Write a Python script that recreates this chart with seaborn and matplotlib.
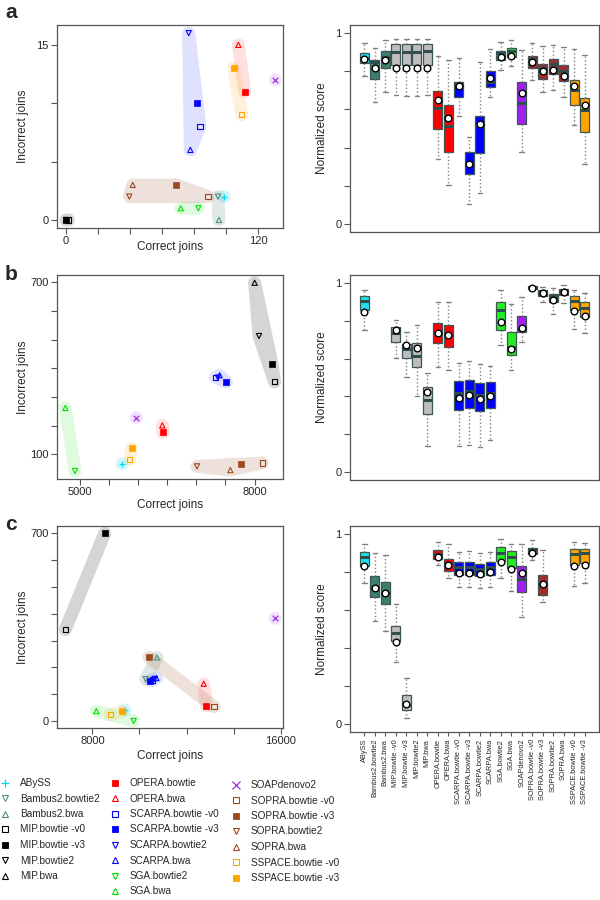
import numpy as np
import pandas as pd
import matplotlib
matplotlib.use("Agg")
import matplotlib.pyplot as plt
from matplotlib.lines import Line2D
import seaborn as sns

nan = np.nan

# ---------------- data ----------------
methods = ["ABySS", "Bambus2.bowtie2", "Bambus2.bwa", "MIP.bowtie -v0", "MIP.bowtie -v3",
           "MIP.bowtie2", "MIP.bwa", "OPERA.bowtie", "OPERA.bwa", "SCARPA.bowtie -v0",
           "SCARPA.bowtie -v3", "SCARPA.bowtie2", "SCARPA.bwa", "SGA.bowtie2", "SGA.bwa",
           "SOAPdenovo2", "SOPRA.bowtie -v0", "SOPRA.bowtie -v3", "SOPRA.bowtie2", "SOPRA.bwa",
           "SSPACE.bowtie -v0", "SSPACE.bowtie -v3"]
assemblers = ["ABySS", "Bambus2", "MIP", "OPERA", "SCARPA", "SGA", "SOAPdenovo2", "SOPRA", "SSPACE"]

# scatter panels: correct / incorrect joins
a_correct = [99, 95, 95.6, 1.5, 0, 0, 0, 111.7, 107.7, 83.7, 81.7, 76.7, 77.7, 82.7, 71.7,
             130.8, 88.7, 68.7, 39.6, 41.7, 109.8, 104.8]
a_incorrect = [2, 2, 0, 0, 0, 0, 0, 11, 15, 8, 10, 16, 6, 1, 1, 12, 2, 3, 2, 3, 9, 13]

b_correct = [5726, nan, nan, 8343, 8297, 8074, 8000, 6429, 6417, 7331, 7514, 7371, 7400,
             4920, 4754, 5971, 8131, 7771, 7011, 7583, 5857, 5891]
b_incorrect = [67, nan, nan, 353, 416, 513, 699, 177, 201, 369, 353, 368, 376, 42, 262, 228,
               70, 66, 58, 45, 81, 122]

c_correct = [9388, 10266, 10748, 6853, 8524, nan, nan, 12844, 12731, 10550, 10465, 10650,
             10720, 9756, 8170, 15762, 13170, 10408, nan, nan, 8765, 9246]
c_incorrect = [42, 156, 237, 341, 700, nan, nan, 57, 139, 153, 151, 157, 160, 0, 37, 383,
               53, 238, nan, nan, 24, 36]

# box panels: whisker low, q1, median, q3, whisker high, mean
a_lo = [0.775, 0.639, 0.693, 0.677, 0.672, 0.672, 0.675, 0.342, 0.205, 0.565, 0.102, 0.161, 0.663, 0.810, 0.826, 0.375, 0.754, 0.693, 0.700, 0.668, 0.518, 0.316]
a_q1 = [0.842, 0.758, 0.816, 0.832, 0.832, 0.832, 0.832, 0.498, 0.374, 0.663, 0.260, 0.372, 0.716, 0.858, 0.877, 0.525, 0.816, 0.758, 0.789, 0.749, 0.621, 0.479]
a_med = [0.870, 0.850, 0.877, 0.902, 0.902, 0.902, 0.905, 0.609, 0.511, 0.740, 0.321, 0.520, 0.746, 0.895, 0.909, 0.635, 0.863, 0.820, 0.837, 0.800, 0.702, 0.596]
a_q3 = [0.895, 0.860, 0.909, 0.942, 0.942, 0.942, 0.942, 0.698, 0.621, 0.747, 0.374, 0.565, 0.802, 0.909, 0.923, 0.742, 0.881, 0.837, 0.863, 0.832, 0.754, 0.658]
a_hi = [0.951, 0.925, 0.963, 0.970, 0.970, 0.970, 0.972, 0.882, 0.858, 0.872, 0.454, 0.849, 0.916, 0.956, 0.963, 0.911, 0.947, 0.933, 0.939, 0.928, 0.916, 0.884]
a_mean = [0.867, 0.819, 0.860, 0.816, 0.816, 0.816, 0.816, 0.649, 0.556, 0.723, 0.311, 0.526, 0.767, 0.877, 0.882, 0.684, 0.849, 0.802, 0.805, 0.775, 0.723, 0.625]

b_lo = [0.750, nan, nan, 0.601, 0.505, 0.400, 0.136, 0.556, 0.542, 0.135, 0.140, 0.129, 0.166, 0.673, 0.542, 0.689, 0.962, 0.900, 0.839, 0.895, 0.755, 0.734]
b_q1 = [0.858, nan, nan, 0.690, 0.601, 0.554, 0.304, 0.682, 0.663, 0.330, 0.337, 0.322, 0.339, 0.750, 0.622, 0.741, 0.969, 0.934, 0.899, 0.939, 0.860, 0.820]
b_med = [0.907, nan, nan, 0.736, 0.650, 0.615, 0.383, 0.738, 0.726, 0.420, 0.428, 0.409, 0.420, 0.860, 0.664, 0.760, 0.976, 0.955, 0.934, 0.958, 0.907, 0.869]
b_q3 = [0.934, nan, nan, 0.767, 0.680, 0.684, 0.449, 0.790, 0.778, 0.479, 0.488, 0.470, 0.476, 0.900, 0.741, 0.829, 0.983, 0.962, 0.942, 0.969, 0.934, 0.899]
b_hi = [0.962, nan, nan, 0.806, 0.743, 0.780, 0.523, 0.900, 0.900, 0.579, 0.589, 0.570, 0.563, 0.962, 0.892, 0.928, 0.986, 0.979, 0.974, 0.991, 0.962, 0.951]
b_mean = [0.850, nan, nan, 0.752, 0.673, 0.654, 0.421, 0.738, 0.726, 0.393, 0.407, 0.386, 0.402, 0.795, 0.652, 0.762, 0.976, 0.949, 0.913, 0.953, 0.855, 0.829]

c_lo = [0.743, 0.543, 0.492, 0.328, 0.030, nan, nan, 0.836, 0.768, 0.721, 0.721, 0.717, 0.724, 0.770, 0.703, 0.562, 0.866, 0.642, nan, nan, 0.728, 0.743]
c_q1 = [0.832, 0.667, 0.632, 0.436, 0.073, nan, nan, 0.869, 0.808, 0.787, 0.787, 0.782, 0.787, 0.860, 0.822, 0.693, 0.895, 0.681, nan, nan, 0.839, 0.846]
c_med = [0.878, 0.720, 0.690, 0.478, 0.100, nan, nan, 0.895, 0.846, 0.829, 0.829, 0.817, 0.829, 0.900, 0.881, 0.764, 0.921, 0.740, nan, nan, 0.895, 0.899]
c_q3 = [0.909, 0.782, 0.747, 0.517, 0.152, nan, nan, 0.916, 0.869, 0.852, 0.852, 0.843, 0.852, 0.934, 0.913, 0.834, 0.930, 0.787, nan, nan, 0.921, 0.925]
c_hi = [0.948, 0.899, 0.890, 0.630, 0.241, nan, nan, 0.960, 0.948, 0.909, 0.913, 0.904, 0.909, 0.974, 0.951, 0.948, 0.969, 0.916, nan, nan, 0.958, 0.955]
c_mean = [0.832, 0.717, 0.689, 0.431, 0.103, nan, nan, 0.881, 0.836, 0.798, 0.798, 0.792, 0.799, 0.855, 0.815, 0.796, 0.902, 0.738, nan, nan, 0.832, 0.839]

# ---------------- styles ----------------
box_colors = {"ABySS": "#22DDEE", "Bambus2": "#3D7F6C", "MIP": "#BEBEBE", "OPERA": "#FF0000",
              "SCARPA": "#0000FF", "SGA": "#22EE22", "SOAPdenovo2": "#A020F0",
              "SOPRA": "#A52A2A", "SSPACE": "#FFA500"}
point_colors = {"ABySS": "#00D8F0", "Bambus2": "#4F8F80", "MIP": "#000000", "OPERA": "#FF0000",
                "SCARPA": "#0000FF", "SGA": "#00E000", "SOAPdenovo2": "#A030E0",
                "SOPRA": "#9A4A22", "SSPACE": "#FFA500"}
hull_colors = {"ABySS": ("#00D8F0", 0.18), "Bambus2": ("#5F8F80", 0.2), "MIP": ("#777777", 0.3),
               "OPERA": ("#FF3030", 0.15), "SCARPA": ("#3030FF", 0.15), "SGA": ("#30E030", 0.15),
               "SOAPdenovo2": ("#B040F0", 0.15), "SOPRA": ("#A0522D", 0.17),
               "SSPACE": ("#FFA500", 0.15)}


def asm_of(m):
    return m.split(".")[0]


def marker_of(m):
    if m == "ABySS":
        return "+", True
    if m == "SOAPdenovo2":
        return "x", True
    if m == "OPERA.bowtie":
        return "s", True
    if m.endswith("bowtie2"):
        return "v", False
    if m.endswith("bwa"):
        return "^", False
    if m.endswith("-v0"):
        return "s", False
    return "s", True


sns.set_style("white")
plt.rcParams["font.family"] = ["Liberation Sans", "DejaVu Sans"]
plt.rcParams["axes.edgecolor"] = "#555555"
plt.rcParams["axes.linewidth"] = 0.9

fig = plt.figure(figsize=(6, 9), dpi=100)
W, H = 600.0, 900.0


def add_ax(l, r, t, b):
    return fig.add_axes([l / W, 1 - b / H, (r - l) / W, (b - t) / H])


def convex_hull(pts):
    pts = sorted(map(tuple, pts))
    if len(pts) <= 2:
        return pts

    def cross(o, a, b):
        return (a[0] - o[0]) * (b[1] - o[1]) - (a[1] - o[1]) * (b[0] - o[0])
    lower, upper = [], []
    for p in pts:
        while len(lower) >= 2 and cross(lower[-2], lower[-1], p) <= 0:
            lower.pop()
        lower.append(p)
    for p in reversed(pts):
        while len(upper) >= 2 and cross(upper[-2], upper[-1], p) <= 0:
            upper.pop()
        upper.append(p)
    return lower[:-1] + upper[:-1]


def scatter_panel(ax, xs, ys, xlim, ylim, xticks, xtl, yticks, ytl, xlab_y):
    xs = np.asarray(xs, float)
    ys = np.asarray(ys, float)
    ax.set_xlim(xlim)
    ax.set_ylim(ylim)
    ang = np.linspace(0, 2 * np.pi, 20, endpoint=False)
    circ = np.column_stack([np.cos(ang), np.sin(ang)]) * 6.5
    for g in assemblers:
        idx = [i for i, m in enumerate(methods) if asm_of(m) == g and not np.isnan(xs[i])]
        if not idx:
            continue
        pix = ax.transData.transform(np.column_stack([xs[idx], ys[idx]]))
        cloud = (pix[:, None, :] + circ[None, :, :]).reshape(-1, 2)
        hull = np.array(convex_hull(cloud))
        poly = ax.transData.inverted().transform(hull)
        col, al = hull_colors[g]
        ax.fill(poly[:, 0], poly[:, 1], color=col, alpha=al, lw=0, zorder=1)
    for i, m in enumerate(methods):
        if np.isnan(xs[i]):
            continue
        mk, filled = marker_of(m)
        c = point_colors[asm_of(m)]
        if mk in ("+", "x"):
            sns.scatterplot(x=[xs[i]], y=[ys[i]], ax=ax, marker=mk, color=c, s=16,
                            linewidth=0.9, zorder=3)
        elif filled:
            sns.scatterplot(x=[xs[i]], y=[ys[i]], ax=ax, marker=mk, color=c, edgecolor=c,
                            s=13, linewidth=0.5, zorder=3)
        else:
            sns.scatterplot(x=[xs[i]], y=[ys[i]], ax=ax, marker=mk, facecolor="none",
                            edgecolor=c, s=14, linewidth=0.8, zorder=3)
    ax.set_xlim(xlim)
    ax.set_ylim(ylim)
    ax.set_xticks(xticks)
    ax.set_xticklabels(xtl)
    ax.set_yticks(yticks)
    ax.set_yticklabels(ytl)
    ax.tick_params(axis="both", direction="out", length=4, width=0.8, color="#555555",
                   labelsize=8, pad=2, bottom=True, left=True)
    ax.set_xlabel("Correct joins", fontsize=8.5)
    ax.set_ylabel("Incorrect joins", fontsize=8.5)
    ax.xaxis.set_label_coords(0.5, xlab_y)
    ax.yaxis.set_label_coords(-0.125, 0.5)
    for s in ax.spines.values():
        s.set_visible(True)


def box_panel(ax, lo, q1, med, q3, hi, mean, show_labels):
    rows = []
    for i, m in enumerate(methods):
        if np.isnan(med[i]):
            continue
        for v in (lo[i], q1[i], med[i], q3[i], hi[i]):
            rows.append((m, v))
    df = pd.DataFrame(rows, columns=["method", "score"])
    pal = {m: box_colors[asm_of(m)] for m in methods}
    sns.boxplot(data=df, x="method", y="score", order=methods, hue="method",
                hue_order=methods, palette=pal, legend=False, saturation=1, width=0.85,
                whis=(0, 100), showfliers=False, linecolor="#3E5555", linewidth=0.9,
                medianprops=dict(color="#2F4F4F", linewidth=2.2),
                whiskerprops=dict(color="#808080", linestyle=":", linewidth=1.0),
                capprops=dict(color="#808080", linewidth=1.0), ax=ax)
    mrows = [(m, mean[i]) for i, m in enumerate(methods) if not np.isnan(mean[i])]
    mdf = pd.DataFrame(mrows, columns=["method", "mean"])
    sns.stripplot(data=mdf, x="method", y="mean", order=methods, jitter=False,
                  color="white", edgecolor="black", linewidth=1.0, size=4.8, ax=ax,
                  zorder=5)
    ax.set_xlim(-1.37, 22.37)
    ax.set_ylim(-0.044, 1.044)
    ax.set_yticks([0, 0.2, 0.4, 0.6, 0.8, 1.0])
    ax.set_yticklabels(["0", "", "", "", "", "1"])
    ax.tick_params(axis="y", direction="out", length=4, width=0.8, color="#555555",
                   labelsize=8, pad=2, left=True)
    if show_labels:
        ax.set_xticks(range(len(methods)))
        ax.set_xticklabels(methods)
        ax.tick_params(axis="x", direction="out", length=3, width=0.8, color="#555555",
                       labelsize=5.3, labelrotation=90, pad=2, bottom=True)
    else:
        ax.tick_params(axis="x", length=0, labelbottom=False)
    ax.set_xlabel("")
    ax.set_ylabel("Normalized score", fontsize=8.5)
    ax.yaxis.set_label_coords(-0.09, 0.5)
    for s in ax.spines.values():
        s.set_visible(True)


# ---------------- panels ----------------
ax_a = add_ax(57, 283, 25, 228)
scatter_panel(ax_a, a_correct, a_incorrect, (-5.6, 135.6), (-0.69, 16.7),
              [0, 20, 40, 60, 80, 100, 120], ["0", "", "", "", "", "", "120"],
              [0, 5, 10, 15], ["0", "", "", "15"], -0.065)
ax_b = add_ax(57, 283, 275, 479)
scatter_panel(ax_b, b_correct, b_incorrect, (4611, 8486), (14, 726),
              [5000, 5500, 6000, 6500, 7000, 7500, 8000], ["5000", "", "", "", "", "", "8000"],
              [100, 200, 300, 400, 500, 600, 700], ["100", "", "", "", "", "", "700"], -0.1)
ax_c = add_ax(57, 283, 526, 728)
scatter_panel(ax_c, c_correct, c_incorrect, (6499, 16099), (-26, 727),
              [8000, 10000, 12000, 14000, 16000], ["8000", "", "", "", "16000"],
              [0, 100, 200, 300, 400, 500, 600, 700], ["0", "", "", "", "", "", "", "700"], -0.11)

bx_a = add_ax(350, 599, 25, 232)
box_panel(bx_a, a_lo, a_q1, a_med, a_q3, a_hi, a_mean, False)
bx_b = add_ax(350, 599, 275, 480)
box_panel(bx_b, b_lo, b_q1, b_med, b_q3, b_hi, b_mean, False)
bx_c = add_ax(350, 599, 526, 732)
box_panel(bx_c, c_lo, c_q1, c_med, c_q3, c_hi, c_mean, True)

for letter, y in (("a", 18), ("b", 280), ("c", 530)):
    fig.text(5 / W, 1 - y / H, letter, fontsize=15, fontweight="bold", va="baseline",
             ha="left")

# ---------------- legend (three columns) ----------------
def handle(m):
    mk, filled = marker_of(m)
    c = point_colors[asm_of(m)]
    if mk in ("+", "x"):
        return Line2D([], [], linestyle="", marker=mk, color=c, markersize=5.5,
                      markeredgewidth=0.9)
    if filled:
        return Line2D([], [], linestyle="", marker=mk, markerfacecolor=c,
                      markeredgecolor=c, markersize=4.5, markeredgewidth=0.6)
    return Line2D([], [], linestyle="", marker=mk, markerfacecolor="none",
                  markeredgecolor=c, markersize=5, markeredgewidth=0.8)


cols = [methods[0:7], methods[7:15], methods[15:22]]
xs_leg = [0, 110, 231]
ys_leg = [778, 778, 780]
for names, lx, ly in zip(cols, xs_leg, ys_leg):
    leg = fig.legend([handle(m) for m in names], names, loc="upper left",
                     bbox_to_anchor=(lx / W, 1 - ly / H), frameon=False, fontsize=7.2,
                     handlelength=1.0, handletextpad=1.0, labelspacing=0.55,
                     borderpad=0, borderaxespad=0)

fig.savefig("out.png", dpi=100)
